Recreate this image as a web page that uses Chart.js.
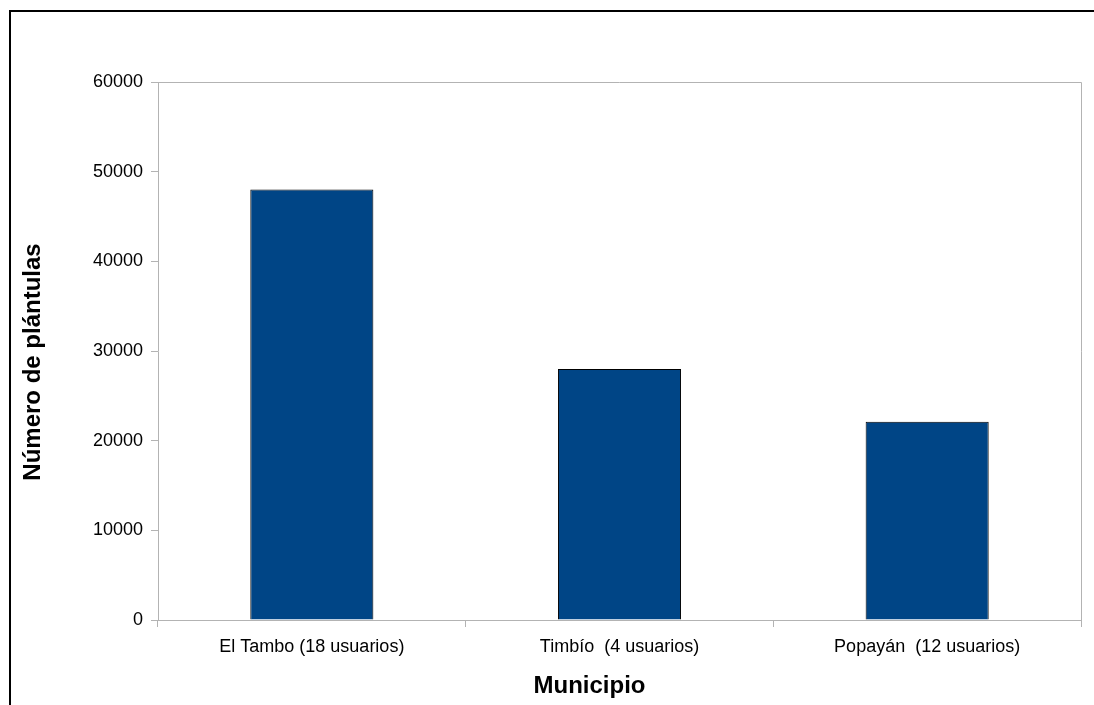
<!DOCTYPE html>
<html>
<head>
<meta charset="utf-8">
<script src="https://cdn.jsdelivr.net/npm/chart.js@4/dist/chart.umd.min.js"></script>
<style>
  html, body { margin: 0; padding: 0; background: #fff; }
  #wrap { width: 1094px; height: 705px; }
</style>
</head>
<body>
<div id="wrap"><canvas id="chart"></canvas></div>
<script>
// data
const municipios = ['El Tambo (18 usuarios)', 'Timbío  (4 usuarios)', 'Popayán  (12 usuarios)'];
const plantulas = [48000, 28000, 22100];
const yTicks = [0, 10000, 20000, 30000, 40000, 50000, 60000];
const xTitle = 'Municipio';
const yTitle = 'Número de plántulas';

// outer frame, plot border and the two axis titles
const framePlugin = {
    id: 'frame',
    afterDraw(chart) {
        const ctx = chart.ctx;
        const a = chart.chartArea;
        ctx.save();
        ctx.strokeStyle = '#b3b3b3';
        ctx.lineWidth = 1;
        ctx.beginPath();
        ctx.moveTo(a.left, a.top + 0.5);
        ctx.lineTo(a.right + 0.5, a.top + 0.5);
        ctx.lineTo(a.right + 0.5, a.bottom);
        ctx.stroke();
        ctx.strokeStyle = '#000';
        ctx.lineWidth = 2;
        ctx.beginPath();
        ctx.moveTo(10, chart.height);
        ctx.lineTo(10, 11);
        ctx.lineTo(chart.width, 11);
        ctx.stroke();

        // titles (LibreOffice puts them a bit off the plot centre)
        ctx.fillStyle = '#000';
        ctx.font = 'bold 24px "Liberation Sans"';
        ctx.textAlign = 'center';
        ctx.textBaseline = 'middle';
        ctx.fillText(xTitle, a.left + (a.right - a.left) / 2 - 30, 686);
        ctx.translate(33, (a.top + a.bottom) / 2 + 11);
        ctx.rotate(-Math.PI / 2);
        ctx.fillText(yTitle, 0, 0);
        ctx.restore();
    }
};

new Chart(document.getElementById('chart'), {
    type: 'bar',
    data: {
        labels: municipios,
        datasets: [{
            data: plantulas,
            backgroundColor: '#004586',
            borderColor: '#000',
            borderWidth: 1,
            barPercentage: 0.4,
            categoryPercentage: 1
        }]
    },
    options: {
        responsive: true,
        maintainAspectRatio: false,
        animation: false,
        layout: { padding: { left: 0, top: 82, right: 13, bottom: 0 } },
        plugins: { legend: { display: false }, tooltip: { enabled: false } },
        scales: {
            x: {
                offset: true,
                grid: { offset: true, drawOnChartArea: false, color: '#b3b3b3', tickLength: 7 },
                border: { color: '#b3b3b3' },
                ticks: { color: '#000', font: { family: 'Liberation Sans', size: 18 }, padding: 9, maxRotation: 0 },
                afterFit(s) { s.height = 85; }
            },
            y: {
                min: 0,
                max: 60000,
                afterBuildTicks(s) { s.ticks = yTicks.map(v => ({ value: v })); },
                grid: { drawOnChartArea: false, color: '#b3b3b3', tickLength: 7 },
                border: { color: '#b3b3b3' },
                ticks: { color: '#000', font: { family: 'Liberation Sans', size: 18 }, padding: 8, callback: v => String(v) },
                afterFit(s) { s.width = 158; }
            }
        }
    },
    plugins: [framePlugin]
});
</script>
</body>
</html>
